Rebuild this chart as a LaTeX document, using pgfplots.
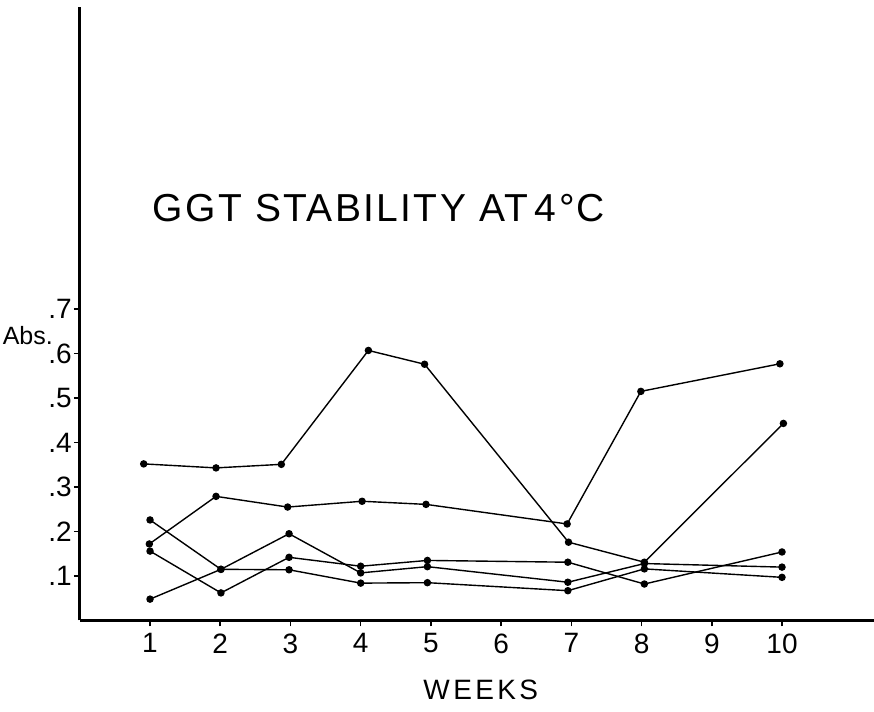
\documentclass[border=0pt]{standalone}
\usepackage{fontspec}
\setmainfont{Liberation Sans}
\usepackage{pgfplots}
\pgfplotsset{compat=1.18}
\begin{document}
\begin{tikzpicture}
\path[use as bounding box] (-39.9pt,-45.75pt) rectangle (397.1pt,310.25pt);
\begin{axis}[
  scale only axis, width=397.1pt, height=306.75pt,
  at={(0,0)}, anchor=south west,
  xmin=0, xmax=11.31, ymin=0, ymax=1.379,
  axis x line*=bottom, axis y line*=left,
  x axis line style={line width=1.1pt},
  y axis line style={line width=1.5pt},
  xtick={1,2,3,4,5,6,7,8,9,10},
  xticklabels={1,2,3,4,5,6,7,8,9,10},
  ytick={0.1,0.2,0.3,0.4,0.5,0.6,0.7},
  yticklabels={.1,.2,.3,.4,.5,.6,.7},
  tick align=outside, major tick length=3pt,
  tick style={line width=0.8pt, black},
  ticklabel style={font=\fontsize{14}{16}\selectfont},
  yticklabel style={xshift=2.5pt},
  clip=false,
]
% series A
\addplot[black, line width=0.7pt, mark=*, mark size=1.5pt, mark options={fill=black}] coordinates {(0.91,0.352) (1.94,0.343) (2.87,0.351) (4.11,0.607) (4.91,0.576) (6.96,0.176) (8.04,0.131) (10.02,0.443)};
% series B
\addplot[black, line width=0.7pt, mark=*, mark size=1.5pt, mark options={fill=black}] coordinates {(0.99,0.172) (1.94,0.279) (2.96,0.255) (4.02,0.268) (4.93,0.261) (6.94,0.217) (7.99,0.515) (9.97,0.577)};
% series C
\addplot[black, line width=0.7pt, mark=*, mark size=1.5pt, mark options={fill=black}] coordinates {(1.0,0.226) (2.01,0.115) (2.98,0.114) (4.0,0.084) (4.95,0.085) (6.95,0.067) (8.04,0.116) (10.0,0.097)};
% series D
\addplot[black, line width=0.7pt, mark=*, mark size=1.5pt, mark options={fill=black}] coordinates {(1.0,0.156) (2.01,0.062) (2.98,0.142) (4.0,0.122) (4.95,0.135) (6.95,0.131) (8.04,0.082) (10.0,0.154)};
% series E
\addplot[black, line width=0.7pt, mark=*, mark size=1.5pt, mark options={fill=black}] coordinates {(1.0,0.048) (2.01,0.115) (2.98,0.195) (4.0,0.107) (4.95,0.121) (6.95,0.086) (8.04,0.128) (10.0,0.120)};
\node[font=\fontsize{12.5}{15}\selectfont] at (axis cs:-0.74,0.640) {Abs.};
\node[font=\fontsize{19.5}{22}\selectfont\addfontfeature{LetterSpace=6}] at (axis cs:4.26,0.927) {GGT STABILITY AT\,4°C};
\node[font=\fontsize{14}{16}\selectfont\addfontfeature{LetterSpace=12}] at (axis cs:5.71,-0.156) {WEEKS};
\end{axis}
\end{tikzpicture}
\end{document}
